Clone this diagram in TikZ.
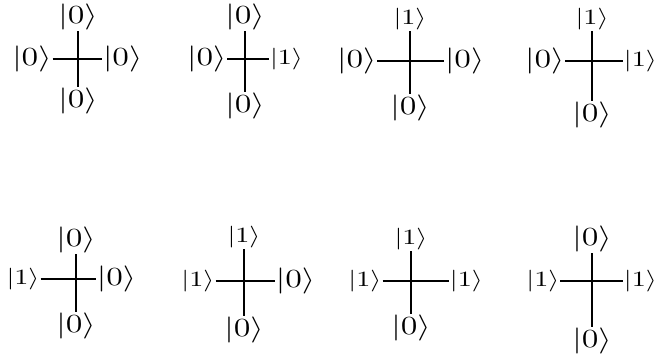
\documentclass[tikz,border=0pt]{standalone}
\usepackage{amsmath}
\usepackage{graphicx}
\usepackage{tikz}
\usetikzlibrary{positioning}
\newcommand{\ketnum}[1]{\scalebox{1.3}[1]{\ifnum#1=0 \fontsize{11.5}{14}\selectfont\fi$|#1\rangle$}}
\tikzset{
  ket/.style={inner sep=0.5pt,outer sep=0pt},
  arm/.style={line width=0.8pt,draw=black}
}

\begin{document}
\begin{tikzpicture}[x=0.46pt,y=-0.46pt]
  \useasboundingbox (0,0) rectangle (655,358);
  % n / centre / arm lengths (l,r,u,d) / ket labels (l,r,u,d)
  \foreach \n/\cx/\cy/\dl/\dr/\du/\dd/\kl/\kr/\ku/\kd in {
    1/78/59/11.7/11.0/12.8/12.8/0/0/0/0,
    2/245/59/8.1/11.0/12.8/15.1/0/1/0/0,
    3/410/61/15.0/15.6/13.8/15.1/0/0/1/0,
    4/592/61/12.2/14.2/13.8/18.4/0/1/1/0,
    5/76/279/16.3/9.1/11.5/15.1/1/0/0/0,
    6/244/281/13.1/14.2/14.7/16.1/1/0/1/0,
    7/411/281/13.1/17.4/13.8/15.1/1/1/1/0,
    8/592/281/14.5/14.2/12.8/21.1/1/1/0/0}
  {
    \coordinate (c\n) at (\cx,\cy);
    \node[ket, left=\dl pt of c\n] (l\n) {\ketnum{\kl}};
    \node[ket, right=\dr pt of c\n] (r\n) {\ketnum{\kr}};
    \node[ket, above=\du pt of c\n] (u\n) {\ketnum{\ku}};
    \node[ket, below=\dd pt of c\n] (d\n) {\ketnum{\kd}};
    \draw[arm] (l\n) -- (r\n);
    \draw[arm] (u\n) -- (d\n);
  }
\end{tikzpicture}
\end{document}
